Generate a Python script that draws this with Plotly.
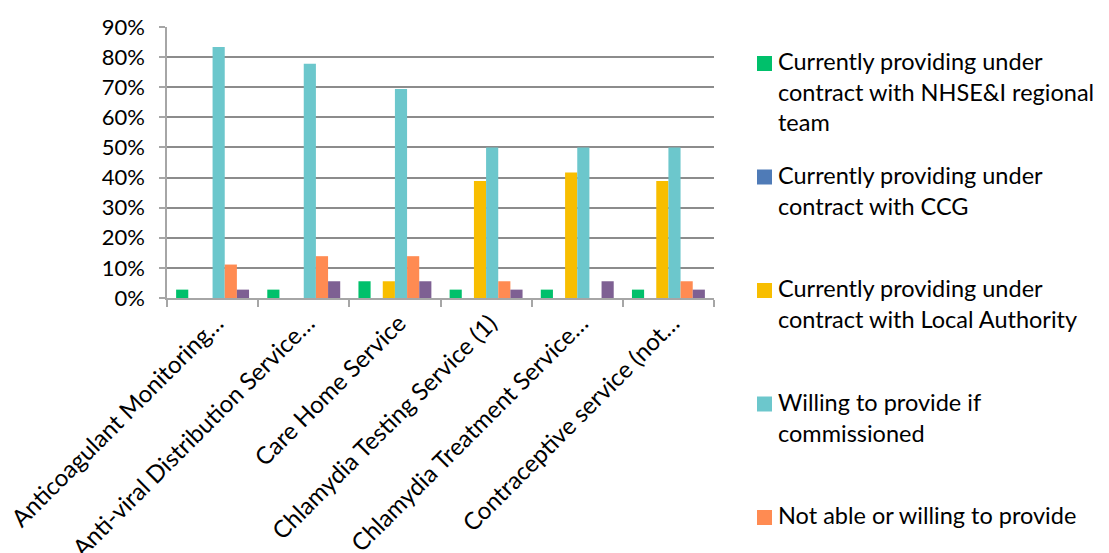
import plotly.graph_objects as go

categories = [
    "Anticoagulant Monitoring…",
    "Anti-viral Distribution Service…",
    "Care Home Service",
    "Chlamydia Testing Service (1)",
    "Chlamydia Treatment Service…",
    "Contraceptive service (not…",
]

series_names = [
    "Currently providing under<br>contract with NHSE&I regional<br>team",
    "Currently providing under<br>contract with CCG",
    "Currently providing under<br>contract with Local Authority",
    "Willing to provide if<br>commissioned",
    "Not able or willing to provide",
    "Don't know",
]
series_colors = ["#00C06B", "#4F7BB7", "#F8BE00", "#6CC7CC", "#FF8B52", "#7E6093"]
show_in_legend = [True, True, True, True, True, False]

nhse = [0.0278, 0.0278, 0.0556, 0.0278, 0.0278, 0.0278]
ccg = [0, 0, 0, 0, 0, 0]
local_authority = [0, 0, 0.0556, 0.3889, 0.4167, 0.3889]
willing = [0.8333, 0.7778, 0.6944, 0.5, 0.5, 0.5]
not_able = [0.1111, 0.1389, 0.1389, 0.0556, 0, 0.0556]
dont_know = [0.0278, 0.0556, 0.0556, 0.0278, 0.0556, 0.0278]

values = [nhse, ccg, local_authority, willing, not_able, dont_know]
yticks = [0, 0.1, 0.2, 0.3, 0.4, 0.5, 0.6, 0.7, 0.8, 0.9]
ytick_labels = ["0%", "10%", "20%", "30%", "40%", "50%", "60%", "70%", "80%", "90%"]

FONT = "Lato"
W, H = 1109, 553
ML, MR, MT, MB = 159, 403, 19, 263
PW, PH = W - ML - MR, H - MT - MB


def px_x(px):
    return (px - ML) / PW


def px_y(py):
    return (H - MB - py) / PH


fig = go.Figure()
for name, col, vals in zip(series_names, series_colors, values):
    fig.add_trace(go.Bar(x=categories, y=vals, name=name.replace("<br>", " "),
                         marker_color=col, marker_line_width=0, showlegend=False))

# legend drawn as swatches + text (keeps Excel-like spacing)
legend_top = 48
legend_step = 113.5
for i, (name, col, sl) in enumerate(zip(series_names, series_colors, show_in_legend)):
    if not sl:
        continue
    top = legend_top + i * legend_step
    fig.add_shape(type="rect", xref="paper", yref="paper",
                  x0=px_x(749), x1=px_x(764), y0=px_y(top), y1=px_y(top + 15),
                  fillcolor=col, line_width=0)
    fig.add_annotation(xref="paper", yref="paper", x=px_x(768), y=px_y(top - 11),
                       xanchor="left", yanchor="top", align="left", showarrow=False,
                       text=name, font=dict(family=FONT, size=23.5, color="#000000"))

fig.update_layout(
    width=W, height=H,
    margin=dict(l=ML, r=MR, t=MT, b=MB, autoexpand=False),
    paper_bgcolor="white", plot_bgcolor="white",
    barmode="group", bargap=0.2, bargroupgap=0,
    font=dict(family=FONT, size=24, color="#000000"),
    showlegend=False,
)
fig.update_xaxes(
    type="category", tickangle=-45, showline=True, linecolor="#A6A6A6", linewidth=1.5,
    ticks="outside", tickson="boundaries", ticklen=7, tickcolor="#A6A6A6", tickwidth=1.5,
    tickfont=dict(family=FONT, size=24), showgrid=False, ticklabelshift=4,
)
fig.update_yaxes(
    range=[0, 0.9], tickvals=yticks, ticktext=ytick_labels,
    showline=True, linecolor="#A6A6A6", linewidth=1.5,
    ticks="outside", ticklen=6, tickcolor="#A6A6A6", tickwidth=1.5,
    showgrid=True, gridcolor="#8C8C8C", gridwidth=1.5,
    tickfont=dict(family=FONT, size=22), zeroline=False, ticklabelstandoff=10,
)

fig.write_html("out.html")
